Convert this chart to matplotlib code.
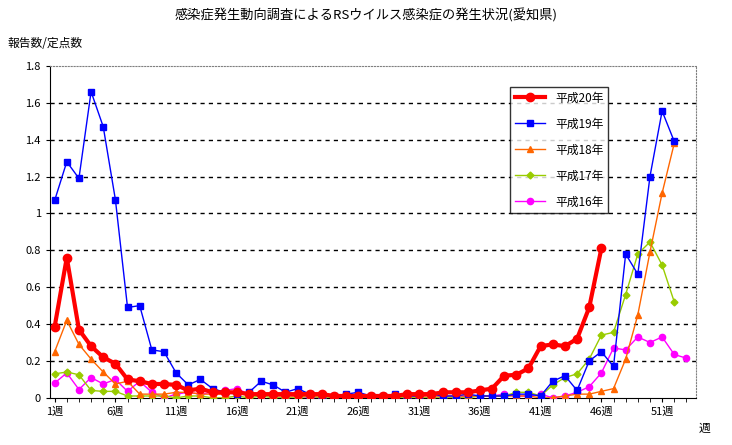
import matplotlib
matplotlib.use("Agg")
import matplotlib.pyplot as plt
import numpy as np

plt.rcParams["font.family"] = "Noto Sans CJK JP"

h20 = [.385,.76,.37,.28,.22,.185,.10,.09,.075,.075,.07,.04,.05,
       .03,.03,.03,.02,.02,.02,.02,.02,.02,.02,.01,.01,.01,.01,.01,.01,.02,.02,.02,.03,.03,.03,
       .04,.05,.06,.12,.125,.16,.28,.29,.28,.32,.49,.81]
h20 = h20[:13] + h20[13:35] + [.04,.05,.12,.125,.16,.28,.29,.28,.32,.49,.81]
h19 = [1.07,1.28,1.19,1.66,1.47,1.075,.49,.50,.26,.25,.135,.07,.10,.05,.03,.02,.03,.09,.07,.03,.05,
       .02,.01,.01,.02,.03,.01,.01,.02,.01,.01,.02,.01,.01,.02,.01,.01,.01,.02,.02,.01,
       .09,.12,.04,.20,.25,.17,.78,.67,1.20,1.555,1.39]
h18 = [.25,.42,.29,.21,.14,.075,.09,.02,.02,.02,.03,.03,.02,.02,.02,.03,.02,.02,.01,.01,.01,
       .01,.01,.01,.01,.01,.01,.01,.01,.01,.01,.01,.01,.01,.01,.01,.01,.01,.01,.01,.0,.0,.01,.02,
       .02,.035,.05,.21,.45,.79,1.11,1.38]
h17 = [.13,.14,.125,.04,.035,.035,.01,.01,.01,.01,.0,.01,.01,.0,.0,.01,.0,.01,.0,.0,.0,
       .01,.0,.0,.0,.0,.0,.0,.0,.0,.0,.0,.0,.0,.0,.01,.01,.01,.03,.03,.01,
       .07,.11,.13,.21,.34,.355,.56,.78,.845,.72,.52]
h16 = [.08,.135,.045,.11,.075,.10,.035,.09,.03,.0,.02,.03,.02,.03,.04,.05,.02,.01,.01,.0,.01,
       .0,.0,.01,.0,.0,.0,.01,.0,.0,.01,.0,.01,.0,.01,.01,.01,.02,.01,.01,.02,
       .0,.01,.03,.06,.135,.27,.26,.33,.30,.33,.235,.215]
xticks = [1,6,11,16,21,26,31,36,41,46,51]
xticklabels = [f"{w}週" for w in xticks]
yticks = [0,0.2,0.4,0.6,0.8,1,1.2,1.4,1.6,1.8]
yticklabels = ["0","0.2","0.4","0.6","0.8","1","1.2","1.4","1.6","1.8"]

fig = plt.figure(figsize=(7.32,4.45), dpi=100)
ax = fig.add_axes([0.068,0.106,0.883,0.746])
series = [
    ("平成20年", h20, "#ff0000", "o", 3, 6),
    ("平成19年", h19, "#0000ff", "s", 1, 4.5),
    ("平成18年", h18, "#ff6600", "^", 1, 4.5),
    ("平成17年", h17, "#99cc00", "D", 1, 3.5),
    ("平成16年", h16, "#ff00ff", "o", 1, 4.5),
]
for name, d, c, m, lw, ms in series[::-1]:
    ax.plot(np.arange(1,len(d)+1), d, color=c, marker=m, lw=lw, ms=ms, label=name, zorder=5 if lw>1 else 3)
for y in yticks[1:-1]:
    ax.axhline(y, color="black", ls=(0,(3,3)), lw=1, zorder=1)
ax.set_xlim(0.6,53.8)
ax.set_ylim(0,1.8)
ax.set_xticks(xticks, xticklabels, fontsize=8)
ax.set_yticks(yticks, yticklabels, fontsize=8)
ax.tick_params(length=3)
ax.set_xticks(range(1,54), minor=True)
ax.tick_params(which="minor", length=3)
for s in ["top","right"]:
    ax.spines[s].set_color("gray"); ax.spines[s].set_linestyle(":")
h, l = ax.get_legend_handles_labels()
leg = ax.legend(h[::-1], l[::-1], loc="upper left", bbox_to_anchor=(0.703,0.955), fontsize=8.5,
                frameon=True, fancybox=False, edgecolor="black", labelspacing=1.1, handlelength=2.6)
leg.get_frame().set_linewidth(1)
fig.text(0.5,0.955,"感染症発生動向調査によるRSウイルス感染症の発生状況(愛知県)", ha="center", fontsize=9.5)
fig.text(0.01,0.895,"報告数/定点数", fontsize=8.5)
fig.text(0.955,0.03,"週", fontsize=8.5)
fig.savefig("out.png", dpi=100)
